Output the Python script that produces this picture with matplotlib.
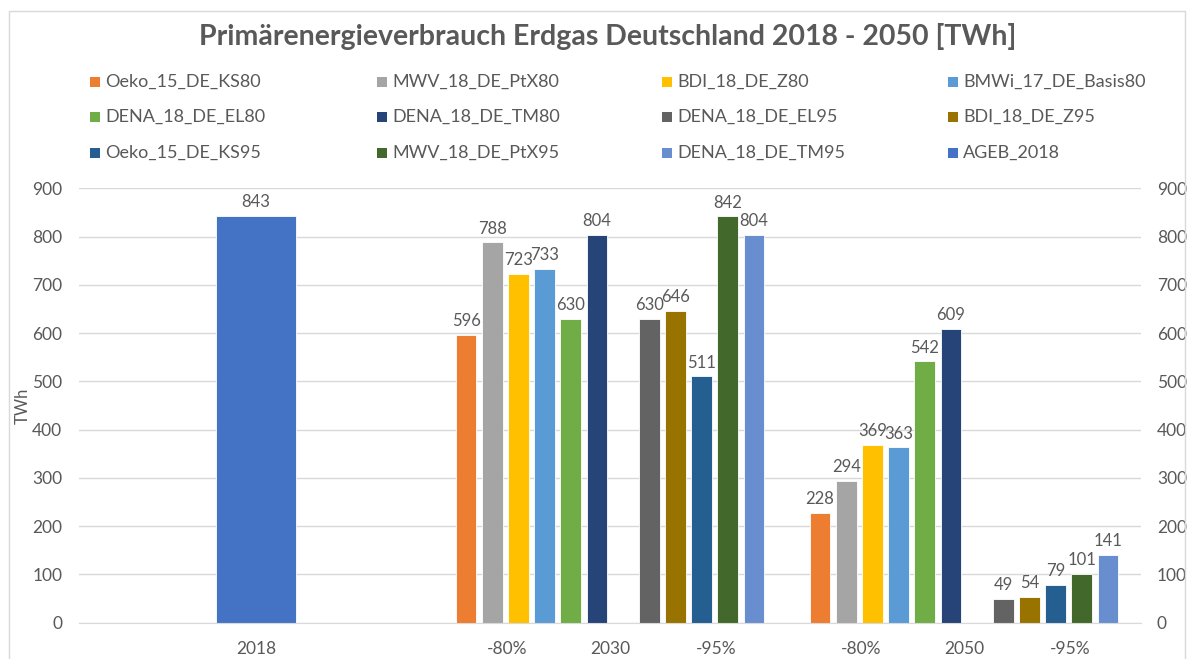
import matplotlib
matplotlib.use("Agg")
import matplotlib.pyplot as plt
from matplotlib.patches import Rectangle
from matplotlib.lines import Line2D

plt.rcParams['font.family'] = ['Lato', 'DejaVu Sans']

title = "Primärenergieverbrauch Erdgas Deutschland 2018 - 2050 [TWh]"
years = ["2018", "2030", "2050"]
sub_labels = ["-80%", "-95%"]

series_80 = ["Oeko_15_DE_KS80", "MWV_18_DE_PtX80", "BDI_18_DE_Z80",
             "BMWi_17_DE_Basis80", "DENA_18_DE_EL80", "DENA_18_DE_TM80"]
series_95 = ["DENA_18_DE_EL95", "BDI_18_DE_Z95", "Oeko_15_DE_KS95",
             "MWV_18_DE_PtX95", "DENA_18_DE_TM95"]
colors_80 = ["#ED7D31", "#A5A5A5", "#FFC000", "#5B9BD5", "#70AD47", "#264478"]
colors_95 = ["#636363", "#997300", "#255E91", "#43682B", "#698ED0"]

values_80 = {"2030": [596, 788, 723, 733, 630, 804],
             "2050": [228, 294, 369, 363, 542, 609]}
values_95 = {"2030": [630, 646, 511, 842, 804],
             "2050": [49, 54, 79, 101, 141]}

ageb_label = "AGEB_2018"
ageb_color = "#4472C4"
ageb_value = 843

TXT = "#595959"
GRID = "#D9D9D9"
W, H = 1189, 659

fig = plt.figure(figsize=(11.89, 6.59), dpi=100)
ax = fig.add_axes([79 / W, 1 - 622.7 / H, 1062 / W, (622.7 - 188.3) / H])

step = 0.0739
bw = 0.058
edge = dict(edgecolor="white", linewidth=0.6)
lbl = dict(padding=4, fontsize=12, color="#595959")

b = ax.bar([0], [ageb_value], width=0.226, color=ageb_color, **edge)
ax.bar_label(b, **lbl)

for gi, yr in enumerate(years[1:], start=1):
    for k, v in enumerate(values_80[yr]):
        x = gi + (k - 5.5) * step
        b = ax.bar([x], [v], width=bw, color=colors_80[k], **edge)
        ax.bar_label(b, **lbl)
    for k, v in enumerate(values_95[yr]):
        x = gi + (k + 7 - 5.5) * step
        b = ax.bar([x], [v], width=bw, color=colors_95[k], **edge)
        ax.bar_label(b, **lbl)

ax.set_xlim(-0.5, 2.5)
ax.set_ylim(0, 900)
ax.set_yticks(range(0, 901, 100))
ax.grid(axis="y", color=GRID, linewidth=1)
ax.set_axisbelow(True)
for s in ["top", "right", "left"]:
    ax.spines[s].set_visible(False)
ax.spines["bottom"].set_color(GRID)

xt = [0]
xl = [years[0]]
for gi, yr in enumerate(years[1:], start=1):
    xt += [gi - 0.29, gi, gi + 0.30]
    xl += [sub_labels[0], yr, sub_labels[1]]
ax.set_xticks(xt)
ax.set_xticklabels(xl)
ax.tick_params(axis="x", length=0, pad=13, labelsize=12.5, labelcolor=TXT)
ax.tick_params(axis="y", length=0, pad=12, labelsize=12.5, labelcolor=TXT)
ax.set_ylabel("TWh", fontsize=12, color=TXT, labelpad=1)

ax2 = ax.twinx()
ax2.set_ylim(0, 900)
ax2.set_yticks(range(0, 901, 100))
for s in ["top", "right", "left", "bottom"]:
    ax2.spines[s].set_visible(False)
ax2.tick_params(axis="y", length=0, pad=11.5, labelsize=12.5, labelcolor=TXT)

fig.text(608 / W, 1 - 36 / H, title, ha="center", va="center",
         fontsize=20.5, fontweight="bold", color=TXT)

# legend laid out row by row like the original
names = series_80 + series_95 + [ageb_label]
cols = colors_80 + colors_95 + [ageb_color]
col_x = [90, 377, 662, 948]
row_y = [82, 117, 153]
for i, (n, c) in enumerate(zip(names, cols)):
    r, cc = divmod(i, 4)
    x0 = col_x[cc]
    y0 = row_y[r]
    fig.add_artist(Rectangle((x0 / W, 1 - (y0 + 5) / H), 10 / W, 10 / H,
                             transform=fig.transFigure, facecolor=c,
                             edgecolor="none"))
    fig.text((x0 + 15) / W, 1 - y0 / H, n, ha="left", va="center",
             fontsize=13, color=TXT)

fx = [9 / W, 9 / W, 1185 / W, 1185 / W]
fy = [0, 1 - 11 / H, 1 - 11 / H, 0]
fig.add_artist(Line2D(fx, fy, transform=fig.transFigure, color=GRID, linewidth=1))

fig.savefig("out.png", dpi=100)
